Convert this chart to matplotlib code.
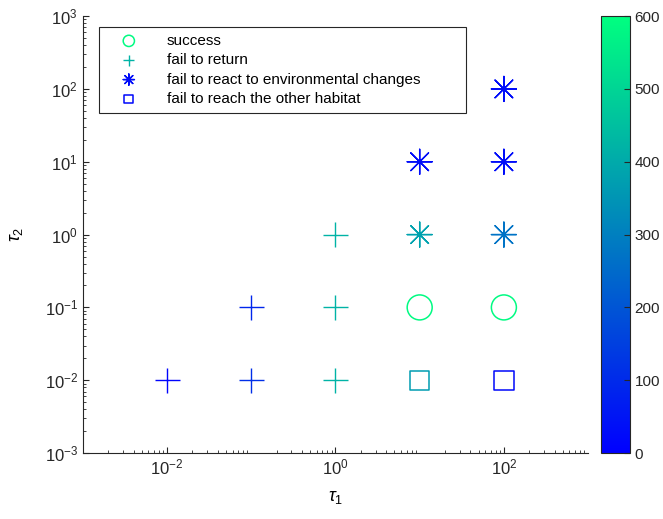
import numpy as np
import matplotlib
matplotlib.use('Agg')
import matplotlib.pyplot as plt
from matplotlib.colors import Normalize
from matplotlib.cm import ScalarMappable

plt.rcParams['font.family'] = ['Liberation Sans', 'DejaVu Sans']
plt.rcParams['mathtext.fontset'] = 'custom'
plt.rcParams['mathtext.rm'] = 'Liberation Sans'
plt.rcParams['mathtext.it'] = 'Liberation Sans:italic'
plt.rcParams['font.size'] = 10
plt.rcParams['axes.unicode_minus'] = False

# data: (tau1, tau2, value) per outcome
success_t1 = [1e1, 1e2]
success_t2 = [1e-1, 1e-1]
success_v = [590, 590]

ret_t1 = [1e0, 1e0, 1e0, 1e-2, 1e-1, 1e-1]
ret_t2 = [1e-2, 1e-1, 1e0, 1e-2, 1e-2, 1e-1]
ret_v = [420, 420, 420, 10, 110, 90]

react_t1 = [1e1, 1e2, 1e2, 1e1, 1e2]
react_t2 = [1e1, 1e1, 1e2, 1e0, 1e0]
react_v = [30, 30, 30, 380, 270]

reach_t1 = [1e2, 1e1]
reach_t2 = [1e-2, 1e-2]
reach_v = [20, 370]

labels = ['success', 'fail to return', 'fail to react to environmental changes',
          'fail to reach the other habitat']

cmap = plt.cm.winter
norm = Normalize(vmin=0, vmax=600)

fig = plt.figure(figsize=(6.63, 5.19), dpi=100)
ax = fig.add_axes([0.125, 0.127, 0.762, 0.842])

ax.scatter(success_t1, success_t2, s=18**2, marker='o', facecolors='none',
           edgecolors=cmap(norm(success_v)), linewidths=1.1, label=labels[0])
ax.scatter(ret_t1, ret_t2, s=18**2, marker='+',
           c=cmap(norm(ret_v)), linewidths=1.0, label=labels[1])
ax.scatter(react_t1, react_t2, s=18**2, marker=(8, 2, 0),
           c=cmap(norm(react_v)), linewidths=1.0, label=labels[2])
ax.scatter(reach_t1, reach_t2, s=14**2, marker='s', facecolors='none',
           edgecolors=cmap(norm(reach_v)), linewidths=1.1, label=labels[3])

ax.set_xscale('log')
ax.set_yscale('log')
ax.set_xlim(1e-3, 1e3)
ax.set_ylim(1e-3, 1e3)
ax.set_xticks([1e-2, 1e0, 1e2])
ax.set_yticks([1e-3, 1e-2, 1e-1, 1e0, 1e1, 1e2, 1e3])
ax.tick_params(which='both', direction='in', labelsize=12, colors='#262626')
ax.tick_params(which='major', length=4)
ax.tick_params(which='minor', length=2)
ax.xaxis.set_minor_locator(matplotlib.ticker.LogLocator(base=10, subs=np.arange(2, 10), numticks=20))
ax.yaxis.set_minor_locator(matplotlib.ticker.LogLocator(base=10, subs=np.arange(2, 10), numticks=20))
for s in ['top', 'right']:
    ax.spines[s].set_visible(False)
for s in ['left', 'bottom']:
    ax.spines[s].set_color('#262626')
ax.set_xlabel(r'$\tau_1$', fontsize=13, labelpad=8)
ax.set_ylabel(r'$\tau_2$', fontsize=13, labelpad=14)

leg = ax.legend(loc='upper left', bbox_to_anchor=(0.032, 0.975, 0.727, 0.0),
                mode='expand', borderaxespad=0,
                markerscale=0.45, fancybox=False, edgecolor='#262626', framealpha=1,
                fontsize=11, handletextpad=1.0, borderpad=0.45, labelspacing=0.35,
                handlelength=3)
leg.get_frame().set_linewidth(0.8)

cax = fig.add_axes([0.906, 0.127, 0.044, 0.842])
cb = fig.colorbar(ScalarMappable(norm=norm, cmap=cmap), cax=cax)
cb.set_ticks([0, 100, 200, 300, 400, 500, 600])
cb.ax.tick_params(direction='in', labelsize=11, length=4, colors='#262626')
cb.outline.set_edgecolor('#262626')

fig.savefig('out.png', dpi=100)
